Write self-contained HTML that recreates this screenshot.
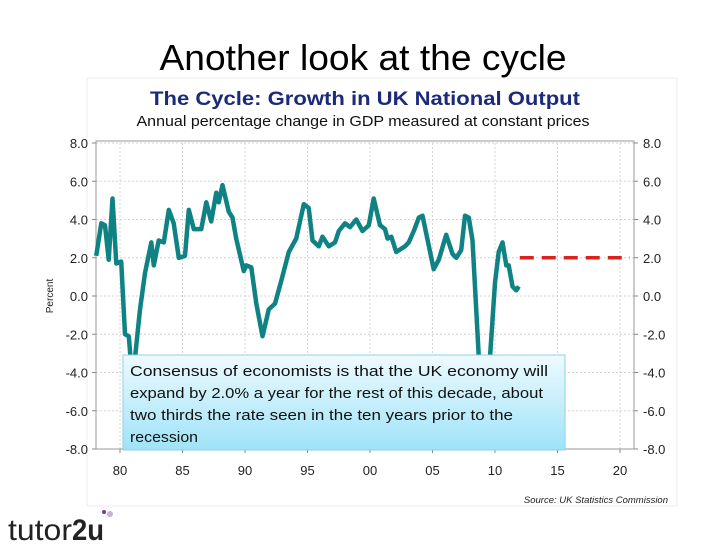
<!DOCTYPE html>
<html><head><meta charset="utf-8"><style>
body{margin:0;background:#fff;width:728px;height:546px;overflow:hidden}
svg{display:block}
</style></head><body>
<svg width="728" height="546" viewBox="0 0 728 546">
<defs>
<linearGradient id="boxg" x1="0" y1="0" x2="0" y2="1">
<stop offset="0" stop-color="#eefafe"/><stop offset="1" stop-color="#9fe3f8"/>
</linearGradient>
</defs>
<text x="363" y="70" text-anchor="middle" font-family="Liberation Sans, sans-serif" font-size="36" textLength="407" lengthAdjust="spacingAndGlyphs" fill="#000">Another look at the cycle</text>
<rect x="87" y="78" width="590" height="428" fill="#fff" stroke="#eee"/>
<text x="365" y="105" text-anchor="middle" font-family="Liberation Sans, sans-serif" font-weight="bold" font-size="19" textLength="430" lengthAdjust="spacingAndGlyphs" fill="#1c2a7a">The Cycle: Growth in UK National Output</text>
<text x="363" y="126" text-anchor="middle" font-family="Liberation Sans, sans-serif" font-size="15" textLength="453" lengthAdjust="spacingAndGlyphs" fill="#111">Annual percentage change in GDP measured at constant prices</text>
<g id="grid"></g>
<g id="axes"></g>
<g id="series"></g>
<text transform="translate(53,296) rotate(-90)" text-anchor="middle" font-family="Liberation Sans, sans-serif" font-size="10" fill="#222">Percent</text>
<g>
<rect x="123" y="355" width="442" height="95" fill="url(#boxg)" stroke="#8fd0e4" stroke-width="1"/>
<g font-family="Liberation Sans, sans-serif" font-size="15" fill="#111">
<text x="130" y="376" textLength="418" lengthAdjust="spacingAndGlyphs">Consensus of economists is that the UK economy will</text>
<text x="130" y="398" textLength="413" lengthAdjust="spacingAndGlyphs">expand by 2.0% a year for the rest of this decade, about</text>
<text x="130" y="420" textLength="383" lengthAdjust="spacingAndGlyphs">two thirds the rate seen in the ten years prior to the</text>
<text x="130" y="442" textLength="68" lengthAdjust="spacingAndGlyphs">recession</text>
</g></g>
<text x="668" y="503" text-anchor="end" font-family="Liberation Sans, sans-serif" font-style="italic" font-size="9.5" fill="#222">Source: UK Statistics Commission</text>
<g>
<text x="8" y="540" font-family="Liberation Sans, sans-serif" font-size="30" fill="#222" textLength="64" lengthAdjust="spacingAndGlyphs">tutor</text>
<text x="72" y="540" font-family="Liberation Sans, sans-serif" font-weight="bold" font-size="30" fill="#222" textLength="32" lengthAdjust="spacingAndGlyphs">2u</text>
<circle cx="110" cy="514" r="3" fill="#c8b0d8"/><circle cx="104" cy="512" r="2" fill="#7a3a8a"/>
</g>
</svg>
<script>
const years=[1978.1,1978.5,1978.8,1979.1,1979.4,1979.7,1980.1,1980.4,1980.7,1981.0,1981.6,1982.0,1982.5,1982.7,1983.1,1983.5,1983.9,1984.3,1984.7,1985.2,1985.5,1985.9,1986.5,1986.9,1987.3,1987.7,1987.9,1988.2,1988.7,1989.0,1989.3,1989.9,1990.1,1990.5,1990.9,1991.4,1991.9,1992.4,1992.9,1993.5,1994.1,1994.7,1995.1,1995.4,1995.9,1996.2,1996.7,1997.2,1997.5,1998.0,1998.4,1998.9,1999.4,1999.9,2000.3,2000.8,2001.2,2001.4,2001.7,2002.1,2002.8,2003.1,2003.5,2003.9,2004.2,2005.1,2005.5,2006.1,2006.6,2006.9,2007.3,2007.6,2007.9,2008.2,2008.7,2009.2,2009.6,2010.0,2010.3,2010.6,2010.9,2011.1,2011.4,2011.7,2011.9];
const growth=[2.1,3.8,3.7,1.9,5.1,1.7,1.8,-2.0,-2.1,-4.5,-0.7,1.2,2.8,1.6,2.9,2.8,4.5,3.8,2.0,2.1,4.5,3.5,3.5,4.9,3.9,5.4,4.9,5.8,4.4,4.1,3.0,1.3,1.6,1.5,-0.4,-2.1,-0.7,-0.4,0.8,2.3,3.0,4.8,4.6,2.9,2.6,3.1,2.6,2.8,3.4,3.8,3.6,4.0,3.4,3.7,5.1,3.7,3.5,3.0,3.1,2.3,2.6,2.8,3.4,4.1,4.2,1.4,1.9,3.2,2.2,2.0,2.4,4.2,4.1,2.9,-3.2,-5.5,-3.2,0.7,2.3,2.8,1.6,1.6,0.5,0.3,0.5];
const forecastYears=[2011.9,2020.8];
const forecastValues=[2.0,2.0];
const yTicks=[8,6,4,2,0,-2,-4,-6,-8];
const yTickLabels=["8.0","6.0","4.0","2.0","0.0","-2.0","-4.0","-6.0","-8.0"];
const xTicks=[1980,1985,1990,1995,2000,2005,2010,2015,2020];
const xTickLabels=["80","85","90","95","00","05","10","15","20"];

const L=96,R=634,T=143,B=449;
const xs=y=>120+(y-1980)*12.5;
const ys=v=>296-v*(B-T)/16;
const NS='http://www.w3.org/2000/svg';
function mk(tag,attrs,parent){const e=document.createElementNS(NS,tag);for(const k in attrs)e.setAttribute(k,attrs[k]);parent.appendChild(e);return e;}
const grid=document.getElementById('grid'),axes=document.getElementById('axes'),series=document.getElementById('series');
yTicks.forEach((v,i)=>{
  const g=mk('line',{x1:L,x2:R,y1:ys(v),y2:ys(v),stroke:'#d4d4d4','stroke-dasharray':'2,2'},grid);
  
  
  const t1=mk('text',{x:88,y:ys(v)+5,'text-anchor':'end','font-family':'Liberation Sans, sans-serif','font-size':'13',fill:'#222'},axes);
  t1.textContent=yTickLabels[i];
  
  
  const t2=mk('text',{x:643,y:ys(v)+5,'font-family':'Liberation Sans, sans-serif','font-size':'13',fill:'#222'},axes);
  t2.textContent=yTickLabels[i];
  
  
  mk('line',{x1:L-4,x2:L,y1:ys(v),y2:ys(v),stroke:'#888'},axes);
  mk('line',{x1:R,x2:R+4,y1:ys(v),y2:ys(v),stroke:'#888'},axes);
});
xTicks.forEach((v,i)=>{
  const g=mk('line',{x1:xs(v),x2:xs(v),y1:T,y2:B,stroke:'#d4d4d4','stroke-dasharray':'2,2'},grid);
  
  
  mk('line',{x1:xs(v),x2:xs(v),y1:B,y2:B+4,stroke:'#888'},axes);
  const t=mk('text',{x:xs(v),y:475,'text-anchor':'middle','font-family':'Liberation Sans, sans-serif','font-size':'13',fill:'#222'},axes);
  t.textContent=xTickLabels[i];
  
  
});
const fr=mk('rect',{x:L,y:T-2,width:R-L,height:B-T+2,fill:'none',stroke:'#999'},axes);


const fc=mk('line',{x1:xs(forecastYears[0])+1,x2:xs(forecastYears[1]),y1:ys(forecastValues[0]),y2:ys(forecastValues[1]),stroke:'#d9231c','stroke-width':3.5,'stroke-dasharray':'14,8'},series);


const d=years.map((y,i)=>(i?'L':'M')+xs(y).toFixed(1)+','+ys(growth[i]).toFixed(1)).join('');
const p=mk('path',{d:d,fill:'none',stroke:'#0f8283','stroke-width':4.5,'stroke-linejoin':'round'},series);


</script>
</body></html>
